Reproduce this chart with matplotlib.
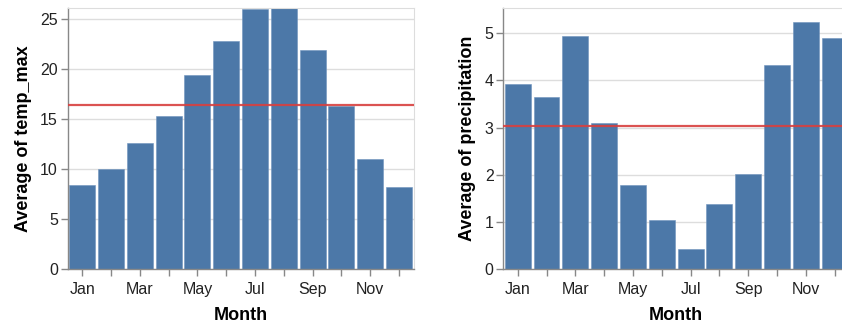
import matplotlib
matplotlib.use("Agg")
import matplotlib.pyplot as plt
import numpy as np

plt.rcParams['font.family'] = ['Liberation Sans', 'DejaVu Sans']

months = ['Jan', 'Feb', 'Mar', 'Apr', 'May', 'Jun',
          'Jul', 'Aug', 'Sep', 'Oct', 'Nov', 'Dec']
temp_max = [8.4, 10.0, 12.6, 15.35, 19.4, 22.8, 26.0, 26.1, 21.9, 16.3, 11.0, 8.2]
precipitation = [3.92, 3.65, 4.94, 3.10, 1.78, 1.04, 0.42, 1.38, 2.01, 4.32, 5.24, 4.90]
temp_mean = 16.44
precip_mean = 3.03

bar_color = '#4c78a8'
rule_color = '#d8403f'

fig = plt.figure(figsize=(8.42, 3.25), dpi=100)
W, H = 842, 325

def make_axes(x0, x1, y0, y1):
    return fig.add_axes([x0 / W, 1 - y1 / H, (x1 - x0) / W, (y1 - y0) / H])

def style(ax, values, mean, ymax, yticks, ylabel):
    x = np.arange(len(months))
    ax.bar(x, values, width=0.9, color=bar_color, edgecolor='#6f93bd',
           linewidth=0.4, zorder=2)
    ax.axhline(mean, color=rule_color, linewidth=1.6, alpha=0.9, zorder=3)
    ax.set_xlim(-0.5, len(months) - 0.5)
    ax.set_ylim(0, ymax)
    ax.set_yticks(yticks)
    ax.grid(axis='y', color='#dddddd', linewidth=1, zorder=0)
    ax.set_axisbelow(True)
    ax.set_xticks(x)
    ax.set_xticklabels([m if i % 2 == 0 else '' for i, m in enumerate(months)])
    for s in ['top', 'right']:
        ax.spines[s].set_color('#dddddd')
    for s in ['left', 'bottom']:
        ax.spines[s].set_color('#888888')
        ax.spines[s].set_linewidth(1.0)
    ax.tick_params(axis='both', colors='#888888', length=5, width=1,
                   labelsize=11.5, labelcolor='#222222', pad=2)
    ax.tick_params(axis='x', pad=4)
    ax.set_xlabel('Month', fontsize=13, fontweight='bold', labelpad=7)
    ax.set_ylabel(ylabel, fontsize=13, fontweight='bold', labelpad=6)

ax1 = make_axes(67.7, 413.5, 8, 269.3)
style(ax1, temp_max, temp_mean, 26.1, [0, 5, 10, 15, 20, 25], 'Average of temp_max')

ax2 = make_axes(503.3, 849.1, 8, 269.3)
style(ax2, precipitation, precip_mean, 5.53, [0, 1, 2, 3, 4, 5], 'Average of precipitation')

fig.savefig('out.png', dpi=100)
